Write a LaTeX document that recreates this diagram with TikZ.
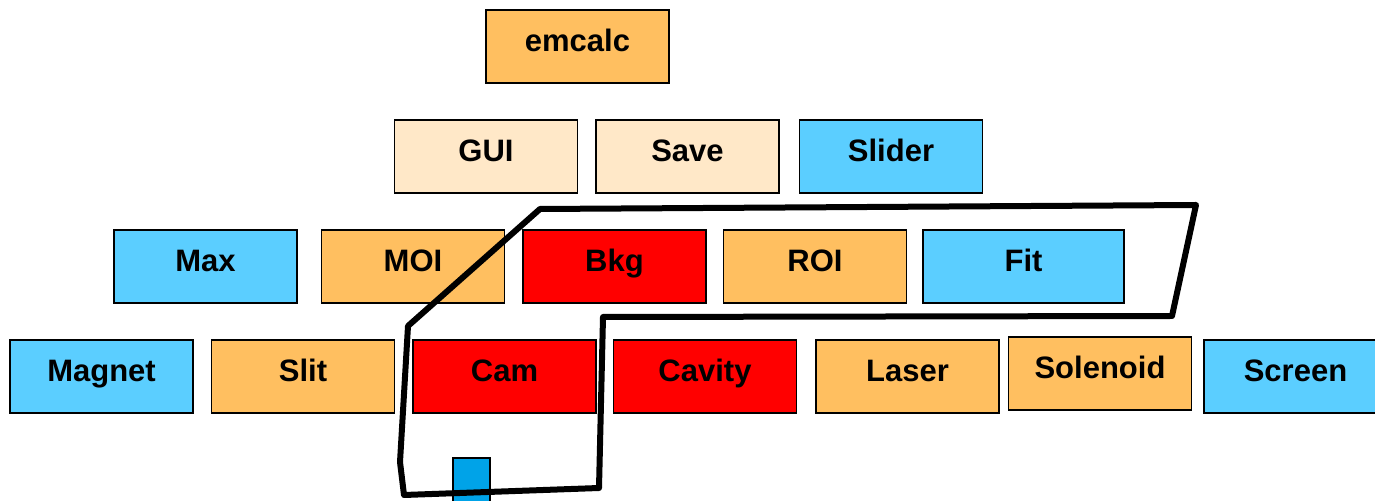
\documentclass[tikz,border=0pt]{standalone}
\usepackage{fontspec}
\setmainfont{Liberation Sans}
\usepackage{tikz}
\usetikzlibrary{positioning}
\definecolor{calcorange}{RGB}{255,191,96}
\definecolor{calcpeach}{RGB}{255,232,200}
\definecolor{calcsky}{RGB}{91,206,255}
\definecolor{calcmark}{RGB}{0,163,232}
\begin{document}
\begin{tikzpicture}[
  x=0.5pt, y=-0.5pt,
  font=\fontsize{15.5}{18}\selectfont\bfseries,
  box/.style={draw, line width=0.75pt, minimum width=91.5pt, minimum height=36.5pt,
    inner sep=0pt, text height=11pt, text depth=5.5pt},
  mod/.style={box, fill=calcorange},
  gui/.style={box, fill=calcpeach},
  ext/.style={box, fill=calcsky},
  hot/.style={box, fill=red},
  loop/.style={line width=3pt, line join=round}
]
\clip (0,0) rectangle (1375,501);
% top
\node[mod] (emcalc) at (577.5,46.5) {emcalc};
% interface row
\node[gui] (gui) at (486,156.5) {GUI};
\node[gui, right=8.5pt of gui] (save) {Save};
\node[ext, right=9.5pt of save] (slider) {Slider};
% analysis row
\node[ext] (max) at (205.5,266.5) {Max};
\node[mod, right=11.5pt of max] (moi) {MOI};
\node[hot, right=8.5pt of moi] (bkg) {Bkg};
\node[mod, right=8pt of bkg] (roi) {ROI};
\node[ext, right=7.5pt of roi, minimum width=100.5pt] (fit) {Fit};
% device row
\node[ext] (magnet) at (101.5,376.5) {Magnet};
\node[mod, right=8.5pt of magnet] (slit) {Slit};
\node[hot, right=8.5pt of slit] (cam) {Cam};
\node[hot, right=8pt of cam] (cavity) {Cavity};
\node[mod, right=9pt of cavity] (laser) {Laser};
\node[mod, right=4pt of laser, yshift=1.5pt] (solenoid) {Solenoid};
\node[ext, right=5.5pt of solenoid, yshift=-1.5pt] (screen) {Screen};
\node[draw, line width=0.75pt, fill=calcmark, minimum width=18.5pt, minimum height=25pt, inner sep=0pt] (marker) at (471.5,483) {};
% selection outline
\draw[loop] (540,209) -- (1196,205) -- (1172,316) -- (603,317) -- (599,488)
  -- (404,495) -- (400,462) -- (408,326) -- cycle;
\end{tikzpicture}
\end{document}
